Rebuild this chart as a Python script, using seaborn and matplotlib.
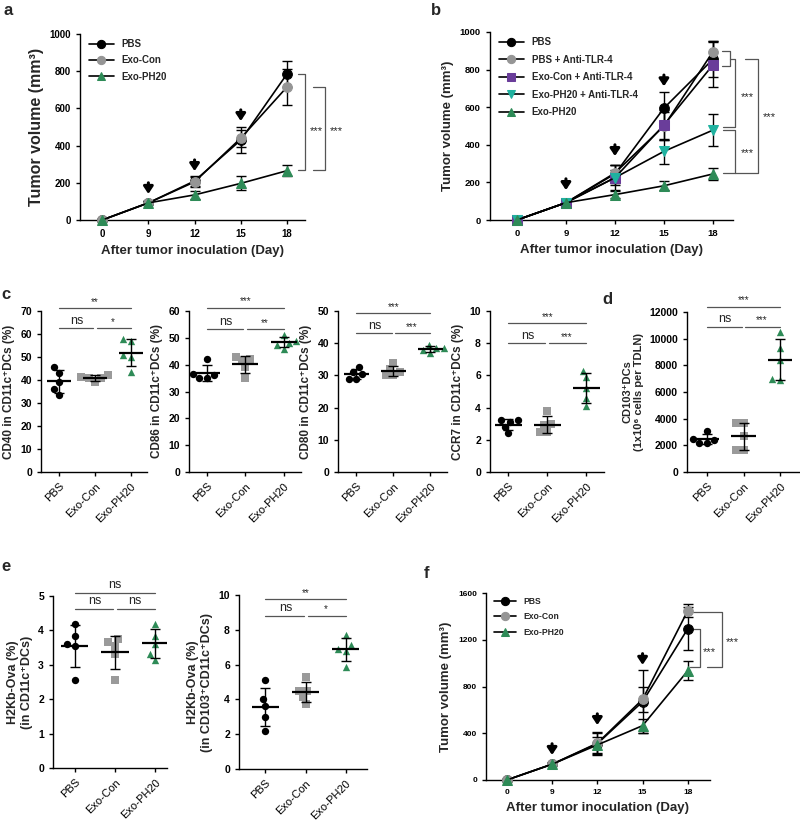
import numpy as np
import pandas as pd
import matplotlib
matplotlib.use("Agg")
import matplotlib.pyplot as plt
import seaborn as sns

sns.set_style("ticks")
plt.rcParams["font.family"] = ["Liberation Sans", "DejaVu Sans"]
plt.rcParams["font.weight"] = "bold"
plt.rcParams["axes.labelweight"] = "bold"
plt.rcParams["axes.linewidth"] = 1.0
plt.rcParams["xtick.major.size"] = 3
plt.rcParams["ytick.major.size"] = 3
plt.rcParams["xtick.major.width"] = 1
plt.rcParams["ytick.major.width"] = 1
plt.rcParams["xtick.color"] = "k"
plt.rcParams["ytick.color"] = "k"
plt.rcParams["axes.edgecolor"] = "k"

# Colours of the groups
BLACK = "#000000"
GREY = "#959595"
GREEN = "#2e8b57"
PURPLE = "#6a3d9a"
TEAL = "#20b2a0"

# ---- Tumor growth curves (mean and SD per day) ----
days = [0, 9, 12, 15, 18]

a_names = ["PBS", "Exo-Con", "Exo-PH20"]
a_pbs = [0, 92, 210, 430, 785]
a_pbs_sd = [0, 8, 25, 68, 70]
a_con = [0, 92, 205, 440, 715]
a_con_sd = [0, 8, 25, 45, 95]
a_ph20 = [0, 92, 135, 197, 265]
a_ph20_sd = [0, 8, 20, 38, 30]

b_names = ["PBS", "PBS + Anti-TLR-4", "Exo-Con + Anti-TLR-4",
           "Exo-PH20 + Anti-TLR-4", "Exo-PH20"]
b_pbs = [0, 92, 245, 595, 855]
b_pbs_sd = [0, 8, 50, 85, 95]
b_pbs_tlr = [0, 92, 250, 500, 895]
b_pbs_tlr_sd = [0, 8, 45, 75, 55]
b_con_tlr = [0, 92, 225, 505, 825]
b_con_tlr_sd = [0, 8, 40, 80, 120]
b_ph20_tlr = [0, 92, 225, 365, 478]
b_ph20_tlr_sd = [0, 8, 65, 65, 85]
b_ph20 = [0, 92, 135, 182, 245]
b_ph20_sd = [0, 8, 20, 25, 30]

f_names = ["PBS", "Exo-Con", "Exo-PH20"]
f_pbs = [0, 135, 310, 670, 1295]
f_pbs_sd = [0, 10, 100, 270, 185]
f_con = [0, 135, 315, 690, 1450]
f_con_sd = [0, 10, 90, 110, 55]
f_ph20 = [0, 135, 300, 465, 935]
f_ph20_sd = [0, 10, 70, 60, 80]

# injection days marked by arrows (arrow tip heights)
inject_days = [9, 12, 15]
a_arrow_tips = [140, 263, 532]
b_arrow_tips = [159, 340, 711]
f_arrow_tips = [214, 470, 985]

# ---- Dot plots, five mice per group ----
groups = ["PBS", "Exo-Con", "Exo-PH20"]
dot_colors = [BLACK, "#9a9a9a", GREEN]
dot_markers = ["o", "s", "^"]

cd40 = [[45.5, 43, 39, 36, 33.5], [42, 41.5, 41, 41, 39], [58, 57, 51, 50, 43.5]]
cd86 = [[42, 36.5, 36, 35, 35], [43, 42, 41.5, 39, 35], [51, 49, 48, 47.5, 46]]
cd80 = [[32.5, 31, 30.5, 29, 29], [34, 32, 31, 30, 30], [39.5, 38.5, 38.5, 38, 37]]
ccr7 = [[3.2, 3.2, 3.1, 2.8, 2.4], [3.8, 3.0, 2.9, 2.5, 2.5], [6.3, 5.9, 5.2, 4.6, 4.1]]
cd103 = [[3100, 2500, 2400, 2200, 2150], [3700, 3700, 2700, 1650, 1650],
         [10500, 9300, 8400, 7000, 6900]]
h2kb_cd11c = [[4.2, 3.85, 3.6, 3.55, 2.55], [3.75, 3.65, 3.55, 3.3, 2.55],
              [4.2, 3.85, 3.6, 3.3, 3.15]]
h2kb_cd103 = [[5.1, 4.0, 3.6, 3.0, 2.2], [5.3, 4.5, 4.5, 4.15, 3.75],
              [7.7, 7.1, 6.9, 6.8, 5.85]]


def px(l, t, r, b):
    return [l / 800, 1 - b / 825, (r - l) / 800, (b - t) / 825]


def bracket(ax, xv, y_top, y_bot, x_top, x_bot, txt, x_txt, y_txt, fs=8):
    ax.plot([x_top, xv, xv, x_bot], [y_top, y_top, y_bot, y_bot],
            color="#555555", lw=0.9, clip_on=False)
    ax.text(x_txt, y_txt, txt, ha="center", va="center", fontsize=fs,
            fontweight="normal")


def growth_panel(ax, names, means, sds, colors, markers, ylim, ystep, xlim,
                 tips, tick_fs, leg_fs, xlab_fs=9.5, ylab_fs=9.5, leg_sp=0.6):
    pos = np.arange(len(days))
    for name, m, s, c, mk in zip(names, means, sds, colors, markers):
        ax.errorbar(pos, m, yerr=s, fmt="none", ecolor="k", elinewidth=1,
                    capsize=3.5, capthick=1, zorder=2, clip_on=False)
        sns.lineplot(x=pos, y=m, ax=ax, color="k", lw=1.2, marker=mk,
                     markersize=7, markerfacecolor=c, markeredgecolor=c,
                     label=name, zorder=3, clip_on=False)
    for d, tip in zip(inject_days, tips):
        p = days.index(d)
        span = ylim[1] * 0.06
        ax.annotate("", xy=(p, tip), xytext=(p, tip + span),
                    arrowprops=dict(arrowstyle="-|>,head_width=0.28,head_length=0.42",
                                    color="k", lw=2.2, shrinkA=0, shrinkB=0))
    ax.set_xticks(pos)
    ax.set_xticklabels(days)
    ax.set_xlim(xlim)
    ax.set_ylim(ylim)
    ax.set_yticks(np.arange(ylim[0], ylim[1] + 1, ystep))
    ax.tick_params(labelsize=tick_fs)
    ax.set_xlabel("After tumor inoculation (Day)", fontsize=xlab_fs)
    ax.set_ylabel("Tumor volume (mm³)", fontsize=ylab_fs)
    ax.legend(loc="upper left", bbox_to_anchor=(0.0, 1.02), frameon=False,
              fontsize=leg_fs, handlelength=2.6, labelspacing=leg_sp,
              markerscale=0.85)
    sns.despine(ax=ax)


def dot_panel(ax, values, ylim, ystep, ylabel, xlim, sig_y, sig_txt,
              lab_fs=8.5):
    df = pd.DataFrame({"group": np.repeat(groups, 5),
                       "value": np.concatenate(values)})
    for g, c, mk in zip(groups, dot_colors, dot_markers):
        sns.swarmplot(data=df[df["group"] == g], x="group", y="value",
                      order=groups, color=c, marker=mk, size=5.3, ax=ax,
                      zorder=3)
    for i, v in enumerate(values):
        mu, sd = np.mean(v), np.std(v, ddof=1)
        ax.hlines(mu, i - 0.34, i + 0.34, color="k", lw=1.6, zorder=4)
        ax.errorbar(i, mu, yerr=sd, fmt="none", ecolor="k", elinewidth=1,
                    capsize=3.5, capthick=1, zorder=4)
    top, low = sig_y
    off = (ylim[1] - ylim[0]) * 0.008
    ax.plot([0, 2], [top, top], color="#555555", lw=0.9, clip_on=False)
    ax.plot([0, 0.95], [low, low], color="#555555", lw=0.9, clip_on=False)
    ax.plot([1.05, 2], [low, low], color="#555555", lw=0.9, clip_on=False)
    for x, y, t in [(1, top, sig_txt[0]), (0.5, low, sig_txt[1]), (1.5, low, sig_txt[2])]:
        fs = 9 if t == "ns" else 7
        ax.text(x, y + off, t, ha="center", va="bottom", fontsize=fs,
                fontweight="normal", clip_on=False)
    ax.set_xlim(xlim)
    ax.set_ylim(ylim)
    ax.set_yticks(np.arange(ylim[0], ylim[1] + ystep * 0.5, ystep))
    ax.set_xticks(range(3))
    ax.set_xticklabels(groups, rotation=45, ha="right", rotation_mode="anchor",
                       fontweight="normal", fontsize=8)
    ax.tick_params(axis="y", labelsize=7.5)
    ax.set_xlabel("")
    ax.set_ylabel(ylabel, fontsize=lab_fs)
    sns.despine(ax=ax)


fig = plt.figure(figsize=(8, 8.25), dpi=100)

# ---- a ----
ax_a = fig.add_axes(px(80, 34, 305, 220))
growth_panel(ax_a, a_names, [a_pbs, a_con, a_ph20], [a_pbs_sd, a_con_sd, a_ph20_sd],
             [BLACK, GREY, GREEN], ["o", "o", "^"], (0, 1000), 200, (-0.48, 4.39),
             a_arrow_tips, 7, 7, ylab_fs=11.5, leg_sp=0.65)
bracket(ax_a, 4.39, 786, 269, 4.23, 4.23, "***", 4.64, 480)
bracket(ax_a, 4.82, 715, 269, 4.57, 4.57, "***", 5.07, 480)

# ---- b ----
ax_b = fig.add_axes(px(490, 32, 733, 220))
growth_panel(ax_b, b_names, [b_pbs, b_pbs_tlr, b_con_tlr, b_ph20_tlr, b_ph20],
             [b_pbs_sd, b_pbs_tlr_sd, b_con_tlr_sd, b_ph20_tlr_sd, b_ph20_sd],
             [BLACK, GREY, PURPLE, TEAL, GREEN], ["o", "o", "s", "v", "^"],
             (0, 1000), 200, (-0.55, 4.41), b_arrow_tips, 6.8, 7, leg_sp=0.78)
bracket(ax_b, 4.35, 899, 819, 4.18, 4.18, "", 0, 0)
bracket(ax_b, 4.45, 858, 497, 4.35, 4.2, "***", 4.71, 655)
bracket(ax_b, 4.45, 478, 248, 4.2, 4.2, "***", 4.71, 354)
bracket(ax_b, 4.92, 858, 248, 4.65, 4.45, "***", 5.16, 548)

# ---- c ----
ax_c1 = fig.add_axes(px(41, 311, 147, 472))
dot_panel(ax_c1, cd40, (0, 70), 10, "CD40 in CD11c⁺DCs (%)", (-0.5, 2.45),
          (71.3, 62.6), ["**", "ns", "*"])
ax_c2 = fig.add_axes(px(189, 311, 301, 472))
dot_panel(ax_c2, cd86, (0, 60), 10, "CD86 in CD11c⁺DCs (%)", (-0.47, 2.45),
          (61.3, 53.3), ["***", "ns", "**"])
ax_c3 = fig.add_axes(px(338, 311, 447, 472))
dot_panel(ax_c3, cd80, (0, 50), 10, "CD80 in CD11c⁺DCs (%)", (-0.5, 2.45),
          (49.3, 43.2), ["***", "ns", "***"])
ax_c4 = fig.add_axes(px(490, 311, 604, 472))
dot_panel(ax_c4, ccr7, (0, 10), 2, "CCR7 in CD11c⁺DCs (%)", (-0.47, 2.45),
          (9.23, 8.0), ["***", "ns", "***"])

# ---- d ----
ax_d = fig.add_axes(px(687, 312, 800, 472))
dot_panel(ax_d, cd103, (0, 12000), 2000,
          "CD103⁺DCs\n(1x10⁶ cells per TDLN)", (-0.55, 2.55),
          (12400, 10900), ["***", "ns", "***"], lab_fs=8)

# ---- e ----
ax_e1 = fig.add_axes(px(53, 596, 167, 768))
dot_panel(ax_e1, h2kb_cd11c, (0, 5), 1, "H2Kb-Ova (%)\n(in CD11c⁺DCs)",
          (-0.54, 2.29), (5.1, 4.63), ["ns", "ns", "ns"], lab_fs=9)
ax_e2 = fig.add_axes(px(239, 595, 367, 769))
dot_panel(ax_e2, h2kb_cd103, (0, 10), 2, "H2Kb-Ova (%)\n(in CD103⁺CD11c⁺DCs)",
          (-0.66, 2.53), (9.77, 8.8), ["**", "ns", "*"], lab_fs=9)

# ---- f ----
ax_f = fig.add_axes(px(486, 593, 710, 780))
growth_panel(ax_f, f_names, [f_pbs, f_con, f_ph20], [f_pbs_sd, f_con_sd, f_ph20_sd],
             [BLACK, GREY, GREEN], ["o", "o", "^"], (0, 1600), 400, (-0.46, 4.49),
             f_arrow_tips, 6, 6.2, leg_sp=0.75)
bracket(ax_f, 4.75, 1438, 963, 4.11, 4.42, "***", 4.98, 1182)
bracket(ax_f, 4.27, 1290, 963, 4.04, 4.04, "***", 4.47, 1097)

# panel letters
for letter, x, y in [("a", 4, 3), ("b", 431, 3), ("c", 1, 287), ("d", 602, 292),
                     ("e", 1, 559), ("f", 424, 566)]:
    fig.text(x / 800, 1 - y / 825, letter, fontsize=12, fontweight="bold",
             ha="left", va="top")

fig.savefig("out.png", dpi=100)
